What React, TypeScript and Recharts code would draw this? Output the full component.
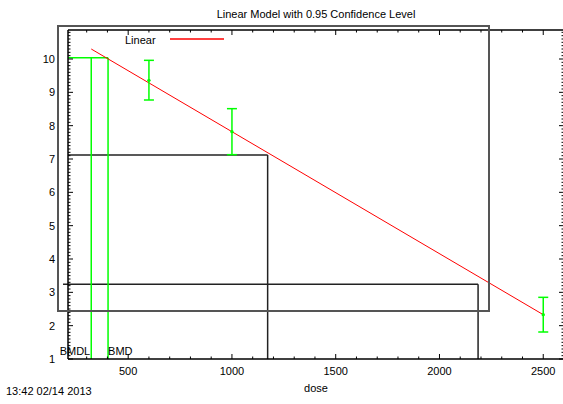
import React from 'react';
import { ComposedChart, XAxis, YAxis, Line, Scatter, ErrorBar, ReferenceLine, Legend } from 'recharts';

// observed group means with 95% confidence limits
const doses = [600, 1000, 2500];
const means = [9.36, 7.82, 2.33];
const lowerCL = [8.77, 7.13, 1.81];
const upperCL = [9.96, 8.51, 2.85];

// linear model fit (drawn from BMDL to highest dose)
const fitDoses = [322, 2500];
const fitValues = [10.3, 2.33];

// benchmark dose markers
const bmdl = 322;
const bmd = 403;
const bmrLevel = 10.04;

// extra black marker lines
const markDoses = [1172, 2186];
const markLevels = [7.12, 3.24];
const markStarts = [210, 186];

const xMajor = [500, 1000, 1500, 2000, 2500];
const yMajor = [1, 2, 3, 4, 5, 6, 7, 8, 9, 10];

const xDomain: [number, number] = [210, 2600];
const yDomain: [number, number] = [1, 10.87];

const xTicks: number[] = [];
for (let d = 300; d <= 2600; d += 100) xTicks.push(d);
const yTicks: number[] = [];
for (let k = 10; k <= 108; k++) yTicks.push(k / 10);

const obsData = doses.map((d, i) => ({ dose: d, mean: means[i], lower: lowerCL[i], upper: upperCL[i] }));
const fitData = fitDoses.map((d, i) => ({ dose: d, fit: fitValues[i] }));

const fitColor = '#ff0000';
const ciColor = '#00ff00';
const font = '"Liberation Sans", Arial, Helvetica, sans-serif';
const isMajor = (v: number, majors: number[]) => majors.some((m) => Math.abs(m - v) < 1e-6);

const XTick = ({ x, y, payload, side }: any) => {
  const major = isMajor(payload.value, xMajor);
  const len = major ? 5 : 2.5;
  const dir = side === 'bottom' ? -1 : 1;
  return (
    <g>
      <line x1={x} x2={x} y1={y} y2={y + dir * len} stroke="#000" strokeWidth={1} />
      {side === 'bottom' && major && (
        <text x={x} y={y + 16} textAnchor="middle" fontSize={11} fontFamily={font} fill="#000">
          {payload.value}
        </text>
      )}
    </g>
  );
};

const YTick = ({ x, y, payload, side }: any) => {
  const major = isMajor(payload.value, yMajor);
  const len = major ? 5 : 2.5;
  const dir = side === 'left' ? 1 : -1;
  return (
    <g>
      <line x1={x} x2={x + dir * len} y1={y} y2={y} stroke="#000" strokeWidth={1} />
      {side === 'left' && major && (
        <text x={x - 13} y={y + 4} textAnchor="end" fontSize={11} fontFamily={font} fill="#000">
          {Math.round(payload.value)}
        </text>
      )}
    </g>
  );
};

const LegendBox = (props: any) => {
  const items = (props.payload || []).filter((e: any) => e.type !== 'none');
  return (
    <div style={{ position: 'relative', width: '100%', height: '100%' }}>
      {items.map((e: any, i: number) => (
        <div key={i}>
          <span style={{ position: 'absolute', left: 66, top: 6 + i * 14, fontSize: 11, lineHeight: '14px', fontFamily: font, color: '#000' }}>
            {e.value}
          </span>
          <svg width={56} height={4} style={{ position: 'absolute', left: 110, top: 10 + i * 14, overflow: 'visible' }}>
            <line x1={1} x2={55} y1={2} y2={2} stroke={fitColor} strokeWidth={1.3} />
          </svg>
        </div>
      ))}
    </div>
  );
};

const bmdLabel = (text: string, anchor: 'start' | 'end') => (p: any) => {
  const vb = p.viewBox || {};
  const bottom = vb.y + vb.height;
  return (
    <text x={anchor === 'end' ? vb.x - 1 : vb.x} y={bottom - 4} textAnchor={anchor} fontSize={11} fontFamily={font} fill="#000">
      {text}
    </text>
  );
};

const axisStyle = { stroke: '#000', strokeWidth: 1.5 };

export default function App() {
  return (
    <div style={{ position: 'absolute', left: 0, top: 0, width: 563, height: 404, overflow: 'hidden', background: '#fff', fontFamily: font }}>
      <div style={{ position: 'absolute', left: 116, top: 7, width: 400, textAlign: 'center', fontSize: 11, lineHeight: '14px', color: '#000' }}>
        Linear Model with 0.95 Confidence Level
      </div>
      <div style={{ position: 'absolute', left: 6, top: 384, fontSize: 11, lineHeight: '14px', color: '#000' }}>
        13:42 02/14 2013
      </div>
      <ComposedChart width={566} height={404} margin={{ top: 29, right: 1, bottom: 15, left: 38 }}>
        <XAxis
          dataKey="dose"
          type="number"
          domain={xDomain}
          allowDataOverflow
          ticks={xTicks}
          interval={0}
          tickSize={0}
          tickMargin={0}
          tickLine={false}
          tick={(p: any) => <XTick {...p} side="bottom" />}
          height={30}
          axisLine={axisStyle}
          label={{ value: 'dose', position: 'insideBottom', offset: -3, fontSize: 11, fill: '#000', fontFamily: font }}
        />
        <XAxis
          xAxisId="top"
          orientation="top"
          dataKey="dose"
          type="number"
          domain={xDomain}
          allowDataOverflow
          ticks={xTicks}
          interval={0}
          tickSize={0}
          tickMargin={0}
          tickLine={false}
          tick={(p: any) => <XTick {...p} side="top" />}
          height={1}
          axisLine={axisStyle}
        />
        <YAxis
          type="number"
          domain={yDomain}
          allowDataOverflow
          ticks={yTicks}
          interval={0}
          tickSize={0}
          tickMargin={0}
          tickLine={false}
          tick={(p: any) => <YTick {...p} side="left" />}
          width={30}
          axisLine={axisStyle}
        />
        <YAxis
          yAxisId="right"
          orientation="right"
          type="number"
          domain={yDomain}
          allowDataOverflow
          ticks={yTicks}
          interval={0}
          tickSize={0}
          tickMargin={0}
          tickLine={false}
          tick={(p: any) => <YTick {...p} side="right" />}
          width={1}
          axisLine={axisStyle}
        />

        {markDoses.map((d, i) => (
          <ReferenceLine
            key={'h' + i}
            segment={[{ x: markStarts[i], y: markLevels[i] }, { x: d, y: markLevels[i] }]}
            stroke="#222"
            strokeWidth={1.5}
            ifOverflow="visible"
          />
        ))}
        {markDoses.map((d, i) => (
          <ReferenceLine
            key={'v' + i}
            segment={[{ x: d, y: markLevels[i] }, { x: d, y: yDomain[0] }]}
            stroke="#222"
            strokeWidth={1.5}
          />
        ))}

        <ReferenceLine segment={[{ x: xDomain[0], y: bmrLevel }, { x: bmd, y: bmrLevel }]} stroke={ciColor} strokeWidth={1.5} />
        <ReferenceLine
          segment={[{ x: bmdl, y: bmrLevel }, { x: bmdl, y: yDomain[0] }]}
          stroke={ciColor}
          strokeWidth={1.5}
          label={bmdLabel('BMDL', 'end')}
        />
        <ReferenceLine
          segment={[{ x: bmd, y: bmrLevel }, { x: bmd, y: yDomain[0] }]}
          stroke={ciColor}
          strokeWidth={1.5}
          label={bmdLabel('BMD', 'start')}
        />

        {/* invisible twin of the fit so the mirrored top/right axes get drawn */}
        <Line
          data={fitData}
          dataKey="fit"
          xAxisId="top"
          yAxisId="right"
          stroke="transparent"
          legendType="none"
          dot={false}
          activeDot={false}
          isAnimationActive={false}
        />
        <Line
          data={fitData}
          dataKey="fit"
          name="Linear"
          stroke={fitColor}
          strokeWidth={1}
          dot={false}
          isAnimationActive={false}
        />
        <Scatter
          data={obsData}
          dataKey="mean"
          legendType="none"
          fill={ciColor}
          isAnimationActive={false}
          shape={(p: any) => <circle cx={p.cx} cy={p.cy} r={1.7} fill={ciColor} />}
        >
          <ErrorBar
            dataKey={(d: any) => [d.mean - d.lower, d.upper - d.mean]}
            direction="y"
            width={5}
            stroke={ciColor}
            strokeWidth={1.5}
            isAnimationActive={false}
          />
        </Scatter>

        <Legend
          layout="horizontal"
          verticalAlign="middle"
          align="center"
          content={LegendBox}
          wrapperStyle={{ left: 57, top: 25, width: 433, height: 287, border: '2px solid #555', boxSizing: 'border-box', margin: 0 }}
        />
      </ComposedChart>
    </div>
  );
}
